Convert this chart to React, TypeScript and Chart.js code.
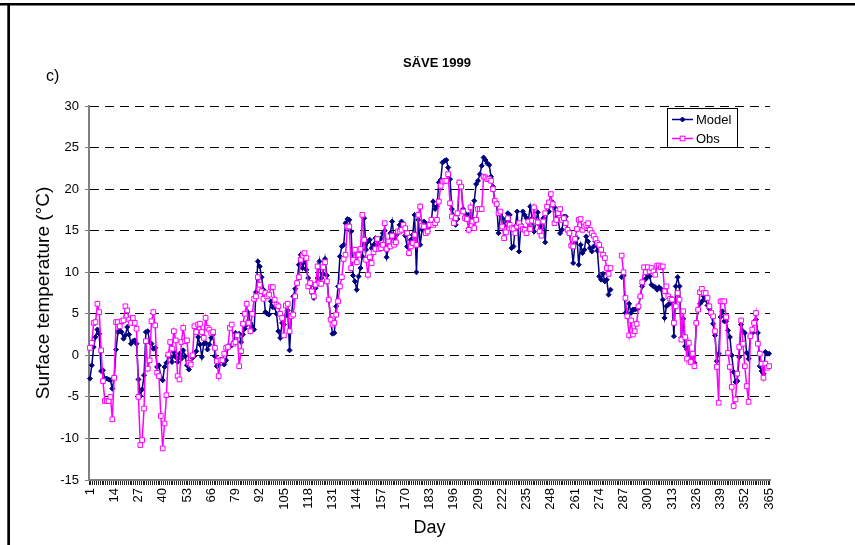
import React, { useEffect, useRef } from 'react';
import { Chart, registerables } from 'chart.js';

Chart.register(...registerables);

// ---- data ----
const days: number[] = Array.from({ length: 365 }, (_, i) => i + 1);
const xTickLabels: number[] = [1, 14, 27, 40, 53, 66, 79, 92, 105, 118, 131, 144, 157, 170, 183, 196, 209, 222, 235, 248, 261, 274, 287, 300, 313, 326, 339, 352, 365];
const yTicks: number[] = [-15, -10, -5, 0, 5, 10, 15, 20, 25, 30];
const chartTitle = 'SÄVE 1999';
const panelLabel = 'c)';
const xTitle = 'Day';
const yTitle = 'Surface temperature (°C)';
const seriesNames = ['Model', 'Obs'];

const modelTemp: (number | null)[] = [
  -2.8, -1.2, 1.0, 2.2, 3.1, 2.6, -1.9, -1.8, -2.8, -2.8,
  -2.9, -3.0, -4.0, -2.7, 0.7, 2.8, 2.9, 2.8, 2.0, 2.4,
  3.4, 2.5, 1.4, 1.7, 1.8, 1.4, -2.9, -4.9, -4.1, -2.4,
  2.8, 2.9, 1.6, 1.4, 0.8, 0.9, -1.4, -1.2, -2.7, -3.0,
  -1.4, -0.9, -0.1, -0.1, -0.8, 0.4, -0.2, -0.8, 0.2, -0.4,
  0.6, -0.1, -1.2, -1.7, -0.9, -0.3, -0.1, 0.5, 2.2, 1.3,
  -0.2, 1.4, 1.5, 0.7, 1.3, 2.1, 2.5, -0.1, -1.3, -1.2,
  -0.5, -0.6, -1.1, -0.6, 1.1, 1.1, 1.2, 1.6, 2.7, 2.5,
  2.6, 1.6, 2.5, 3.2, 3.7, 5.1, 3.9, 3.5, 3.1, 7.6,
  11.3, 10.7, 9.4, 7.9, 5.2, 5.0, 4.9, 6.5, 5.8, 5.8,
  5.0, 2.9, 2.1, 3.9, 3.7, 4.8, 5.4, 0.6, 4.7, 7.1,
  8.0, 8.7, 10.9, 12.1, 10.5, 11.5, 10.3, 9.3, 8.3, 7.5,
  6.9, 8.1, 9.3, 11.3, 9.3, 9.8, 11.6, 9.6, 6.7, 4.4,
  2.6, 2.7, 5.9, 8.3, 11.9, 13.1, 13.3, 15.9, 16.4, 16.3,
  14.9, 9.6, 8.9, 7.9, 9.5, 10.5, 11.9, 16.5, 12.7, 13.7,
  13.9, 12.9, 13.3, 14.1, 13.4, 13.9, 14.1, 14.7, 15.0, 11.8,
  12.9, 14.7, 16.1, 14.1, 14.4, 14.7, 15.7, 16.1, 15.4, 14.4,
  13.1, 12.9, 13.9, 14.5, 16.9, 10.0, 16.3, 13.3, 15.1, 16.1,
  15.9, 14.9, 15.5, 16.1, 18.5, 17.6, 17.9, 20.8, 21.1, 23.2,
  23.4, 23.5, 22.6, 21.2, 17.6, 16.8, 15.7, 16.4, 20.8, 20.3,
  17.6, 17.1, 16.9, 16.9, 16.5, 16.4, 18.6, 20.6, 21.0, 21.8,
  22.8, 23.8, 23.5, 23.1, 22.9, 21.5, 20.3, 18.6, 18.2, 14.7,
  16.9, 16.5, 15.6, 16.3, 17.1, 16.9, 12.9, 13.1, 15.5, 17.3,
  12.5, 15.7, 17.3, 16.9, 16.5, 16.3, 17.9, 16.5, 14.9, 16.0,
  17.2, 15.7, 15.3, 16.5, 13.6, 17.1, 17.3, 18.4, 18.4, 17.8,
  16.5, 16.3, 14.7, 15.1, 16.7, 16.7, 15.1, 14.7, 13.3, 11.1,
  13.5, 14.1, 10.9, 13.3, 12.3, 12.7, 14.3, 13.7, 12.9, 12.5,
  13.1, 13.7, 12.6, 9.5, 9.1, 9.8, 8.9, 9.1, 7.3, 7.9,
  null, null, null, null, null, 9.4, 9.6, 5.1, 4.9, 6.2,
  5.1, 5.5, 5.5, 5.6, 5.7, 7.1, 8.3, 9.0, 9.2, 9.6,
  9.5, 8.5, 8.3, 8.2, 7.9, 8.2, 8.0, 6.7, 4.5, 5.9,
  6.1, 6.3, 6.5, 2.3, 8.3, 9.4, 8.3, 2.1, 4.4, 1.1,
  0.7, 0.2, -0.1, -0.3, -0.9, 3.9, 5.5, 6.2, 6.5, 7.1,
  6.7, 6.0, 5.6, 4.9, 3.8, 2.4, -0.7, 0.2, 4.6, 5.3,
  4.1, 4.1, 3.0, 2.2, 0.0, -2.0, -3.2, -3.1, -0.2, 3.7,
  2.9, 2.7, 0.3, -0.4, 2.3, 2.7, 3.9, 4.3, 2.7, -1.3,
  -1.9, -2.2, 0.4, 0.2, 0.2,
];

const obsTemp: (number | null)[] = [
  0.9, 1.5, 3.9, 4.0, 6.2, 5.2, 0.6, -3.1, -5.5, -5.5,
  -5.5, -5.0, -7.7, -2.7, 4.0, 4.0, 3.5, 4.1, 4.2, 5.9,
  5.4, 4.3, 3.9, 4.5, 3.9, 3.2, -5.0, -10.8, -10.2, -6.4,
  1.7, -1.6, -0.6, 4.1, 5.2, 3.6, -2.1, -2.5, -7.3, -11.2,
  -8.2, -4.8, 0.1, 1.6, 0.8, 2.9, 1.8, -2.5, -2.9, 1.6,
  3.3, 1.7, 1.8, -0.9, -1.1, 0.0, 3.5, 2.8, 3.7, 3.8,
  2.8, 2.1, 4.5, 3.3, 3.1, 2.7, 2.8, 0.9, -0.7, -2.5,
  -0.6, -0.6, 0.2, 0.9, 1.0, 3.3, 3.7, 1.4, 1.6, 2.4,
  -1.3, 0.5, 3.8, 5.0, 6.2, 3.9, 2.9, 5.0, 6.8, 7.1,
  9.4, 8.5, 7.7, 6.8, 7.5, 7.1, 7.3, 8.2, 8.2, 6.7,
  6.1, 5.9, 5.0, 4.5, 2.4, 6.0, 6.2, 2.9, 4.7, 4.9,
  7.1, 8.7, 9.4, 11.5, 12.0, 12.3, 11.7, 8.3, 8.7, 7.7,
  7.1, 8.5, 10.7, 8.7, 8.6, 10.6, 11.2, 8.9, 6.7, 4.3,
  3.7, 3.9, 4.9, 6.5, 8.3, 9.4, 11.6, 12.1, 15.5, 15.5,
  10.5, 11.5, 12.7, 11.2, 12.1, 12.8, 16.9, 13.9, 11.5, 9.7,
  11.8, 11.1, 12.4, 12.8, 14.0, 12.8, 12.9, 13.3, 15.9, 12.8,
  13.7, 13.1, 14.4, 13.3, 13.6, 14.9, 14.9, 15.1, 15.7, 15.3,
  14.7, 12.3, 13.1, 13.5, 14.5, 13.3, 16.9, 17.9, 15.6, 15.5,
  14.7, 14.9, 15.7, 16.3, 15.7, 15.9, 16.3, 18.5, 20.4, 20.9,
  21.0, 21.0, 21.8, 18.3, 16.7, 15.9, 16.5, 17.1, 20.8, 20.3,
  17.3, 16.5, 16.4, 15.1, 17.8, 16.1, 15.3, 16.3, 17.6, 17.6,
  17.6, 21.5, 21.4, 21.2, 21.2, 21.0, 20.0, 18.6, 18.2, 17.1,
  17.3, 15.5, 14.1, 14.8, 16.5, 15.7, 15.3, 15.2, 14.7, 15.5,
  15.9, 15.5, 15.2, 15.1, 14.7, 16.1, 15.2, 16.2, 17.8, 16.1,
  16.0, 14.9, 14.4, 16.1, 17.1, 17.9, 18.4, 19.4, 18.2, 15.9,
  16.3, 17.1, 17.6, 16.3, 16.5, 15.9, 15.1, 14.7, 13.2, 13.1,
  14.0, 15.2, 16.3, 16.4, 15.1, 15.5, 15.7, 15.9, 15.1, 14.7,
  14.4, 14.0, 13.5, 13.3, 12.7, 12.1, 11.7, 10.5, 9.8, 10.5,
  null, null, null, null, null, 12.0, 10.0, 6.9, 4.7, 2.4,
  4.2, 2.5, 2.9, 3.8, 5.9, 7.1, 8.8, 10.6, 10.0, 10.6,
  10.1, 10.5, 10.1, 9.7, 10.8, 10.8, 10.6, 10.7, 7.7, 8.3,
  7.1, 6.8, 6.7, 3.9, 5.9, 7.5, 6.7, 1.9, 5.3, 2.2,
  -0.4, 1.5, -0.8, 0.2, -1.3, 3.9, 5.5, 7.6, 8.0, 7.5,
  7.5, 6.9, 5.9, 5.1, 4.7, 2.9, -1.4, -5.7, 6.5, 6.5,
  6.5, 4.6, 0.3, -1.4, -3.8, -6.1, -5.3, -2.2, 1.0, 4.2,
  1.4, -1.3, -3.7, -5.6, 2.3, 3.1, 3.9, 5.1, 1.4, 0.2,
  -1.0, -2.7, -1.0, -1.5, -1.3,
];

const FONT = '"Liberation Sans", Arial, Helvetica, sans-serif';
const MODEL_COLOR = '#000080';
const OBS_COLOR = '#FF00FF';

const framePlugin = {
  id: 'frame',
  beforeDraw(chart: any) {
    const ctx = chart.ctx;
    ctx.save();
    ctx.fillStyle = '#000';
    ctx.fillRect(0, 3, 855, 2.5);
    ctx.fillRect(7.3, 3, 2.7, 545);
    ctx.restore();
  },
};

const textPlugin = {
  id: 'texts',
  afterDraw(chart: any) {
    const ctx = chart.ctx;
    ctx.save();
    ctx.fillStyle = '#000';
    ctx.textBaseline = 'middle';
    ctx.textAlign = 'center';
    ctx.font = `bold 13px ${FONT}`;
    ctx.fillText(chartTitle, 437, 63);
    ctx.textAlign = 'left';
    ctx.font = `16px ${FONT}`;
    ctx.fillText(panelLabel, 46, 77);
    ctx.restore();
  },
};

const legendPlugin = {
  id: 'boxLegend',
  afterDraw(chart: any) {
    const ctx = chart.ctx;
    const ds = chart.data.datasets;
    const bx = 667.5, by = 108.5, bw = 70, bh = 39;
    ctx.save();
    ctx.fillStyle = '#fff';
    ctx.fillRect(bx, by, bw, bh);
    ctx.strokeStyle = '#000';
    ctx.lineWidth = 1;
    ctx.strokeRect(bx, by, bw, bh);
    ds.forEach((d: any, i: number) => {
      const y = by + 11 + i * 19;
      ctx.strokeStyle = d.borderColor;
      ctx.lineWidth = d.borderWidth;
      ctx.beginPath();
      ctx.moveTo(672, y);
      ctx.lineTo(693, y);
      ctx.stroke();
      const cx = 682.5;
      ctx.lineWidth = 1;
      if (d.pointStyle === 'rectRot') {
        const r = d.pointRadius;
        ctx.fillStyle = d.pointBackgroundColor;
        ctx.beginPath();
        ctx.moveTo(cx - r, y);
        ctx.lineTo(cx, y - r);
        ctx.lineTo(cx + r, y);
        ctx.lineTo(cx, y + r);
        ctx.closePath();
        ctx.fill();
        ctx.stroke();
      } else {
        const s = d.pointRadius * Math.SQRT1_2;
        ctx.fillStyle = d.pointBackgroundColor;
        ctx.fillRect(cx - s, y - s, 2 * s, 2 * s);
        ctx.strokeRect(cx - s, y - s, 2 * s, 2 * s);
      }
      ctx.fillStyle = '#000';
      ctx.font = `13px ${FONT}`;
      ctx.textAlign = 'left';
      ctx.textBaseline = 'middle';
      ctx.fillText(d.label, 696, y + 0.5);
    });
    ctx.restore();
  },
};

export default function App() {
  const ref = useRef<HTMLCanvasElement>(null);

  useEffect(() => {
    Chart.defaults.font.family = FONT;
    Chart.defaults.color = '#000';
    const chart = new Chart(ref.current as HTMLCanvasElement, {
      type: 'line',
      data: {
        labels: days,
        datasets: [
          {
            label: seriesNames[0],
            data: modelTemp,
            borderColor: MODEL_COLOR,
            backgroundColor: MODEL_COLOR,
            borderWidth: 1.5,
            pointStyle: 'rectRot',
            pointRadius: 2.5,
            pointBackgroundColor: MODEL_COLOR,
            pointBorderColor: MODEL_COLOR,
            pointBorderWidth: 1,
            tension: 0,
            spanGaps: false,
            order: 2,
          } as any,
          {
            label: seriesNames[1],
            data: obsTemp,
            borderColor: OBS_COLOR,
            backgroundColor: OBS_COLOR,
            borderWidth: 1.5,
            pointStyle: 'rect',
            pointRadius: 3.3,
            pointBackgroundColor: '#ffffff',
            pointBorderColor: OBS_COLOR,
            pointBorderWidth: 1,
            tension: 0,
            spanGaps: false,
            order: 1,
          } as any,
        ],
      },
      options: {
        animation: false,
        responsive: false,
        devicePixelRatio: 1,
        layout: { padding: { left: 20, right: 85, top: 106, bottom: 0 } },
        plugins: {
          legend: { display: false },
          title: { display: false },
          tooltip: { enabled: false },
        },
        scales: {
          x: {
            type: 'category',
            offset: true,
            grid: {
              display: true,
              drawOnChartArea: false,
              drawTicks: true,
              tickLength: 5,
              color: '#222',
              lineWidth: 1,
              offset: true,
            },
            border: { display: true, color: '#808080', width: 2 },
            ticks: {
              autoSkip: false,
              minRotation: 90,
              maxRotation: 90,
              padding: 3,
              color: '#000',
              font: { size: 13 },
              callback: (_v: any, index: number) =>
                xTickLabels.includes(days[index]) ? String(days[index]) : '',
            },
            title: {
              display: true,
              text: xTitle,
              color: '#000',
              font: { size: 18 },
              padding: { top: 0, bottom: 6 },
            },
            afterFit: (s: any) => {
              s.height = 65;
            },
          },
          y: {
            min: yTicks[0],
            max: yTicks[yTicks.length - 1],
            afterBuildTicks: (s: any) => {
              s.ticks = yTicks.map((v) => ({ value: v }));
            },
            grid: {
              color: (c: any) => (c.tick && c.tick.value === yTicks[0] ? 'rgba(0,0,0,0)' : '#000'),
              tickColor: '#808080',
              tickLength: 4,
              lineWidth: 1,
              drawTicks: true,
              tickBorderDash: [],
            },
            border: { display: true, color: '#808080', width: 2, dash: [9, 6] },
            ticks: {
              padding: 6,
              color: '#000',
              font: { size: 13 },
              callback: (v: any) => String(v),
            },
            title: {
              display: true,
              text: yTitle,
              color: '#000',
              font: { size: 19 },
              padding: { top: 12, bottom: 0 },
            },
            afterFit: (s: any) => {
              s.width = 69;
            },
          },
        },
      } as any,
      plugins: [framePlugin, legendPlugin, textPlugin],
    });
    return () => chart.destroy();
  }, []);

  return (
    <div style={{ position: 'fixed', left: 0, top: 0, width: 855, height: 545, background: '#fff' }}>
      <canvas ref={ref} width={855} height={545} style={{ display: 'block', width: 855, height: 545 }} />
    </div>
  );
}
